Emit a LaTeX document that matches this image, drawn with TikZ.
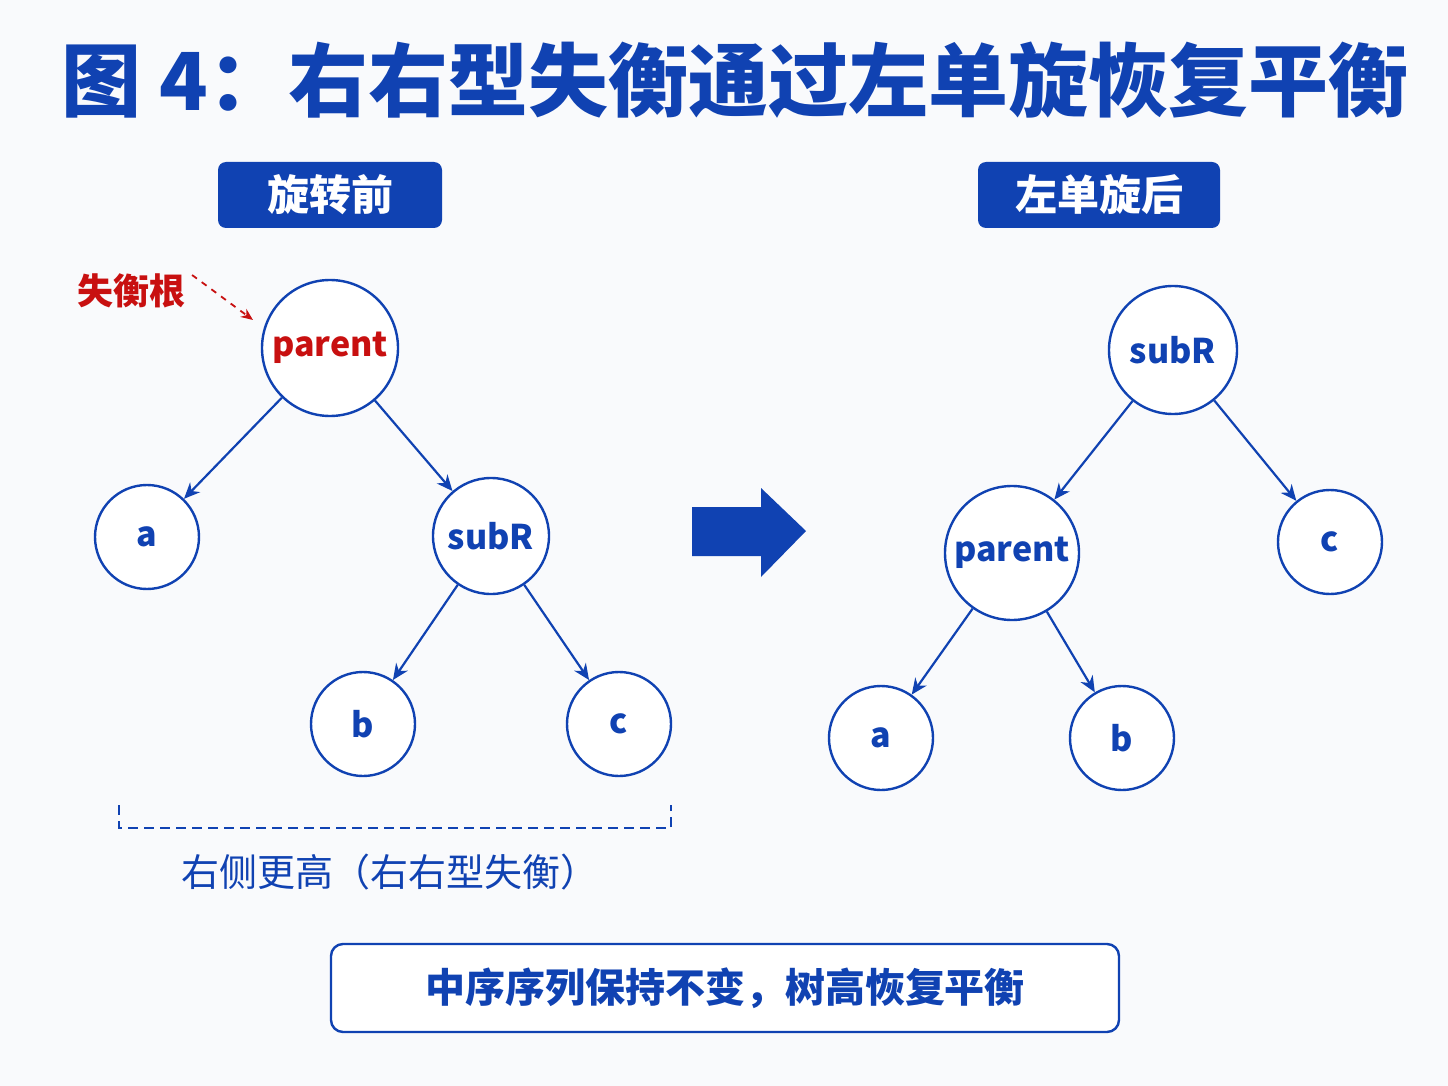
\documentclass[tikz,border=0pt]{standalone}
\usepackage{fontspec}
\setmainfont{Noto Sans CJK SC}
\newfontfamily\cjkb{Noto Sans CJK SC}[FakeBold=0]
\usetikzlibrary{arrows.meta}
\definecolor{mblue}{RGB}{16,66,178}
\definecolor{mred}{RGB}{200,16,16}
\definecolor{bg}{RGB}{249,250,252}
\begin{document}
\begin{tikzpicture}[x=0.5pt,y=-0.5pt,
  nd/.style={circle,draw=mblue,line width=1.2pt,fill=white,inner sep=0pt,font=\fontsize{17}{17}\selectfont\bfseries,text=mblue},
  ed/.style={draw=mblue,line width=1.1pt,-{Stealth[length=8pt,width=7pt]}},
  lbl/.style={rectangle,rounded corners=4pt,fill=mblue,text=white,font=\fontsize{21}{21}\selectfont\bfseries,inner sep=0pt}]
\fill[bg] (0,0) rectangle (1448,1086);
\useasboundingbox (0,0) rectangle (1448,1086);
\node[font=\fontsize{40}{40}\selectfont\bfseries,text=mblue] (title) at (735,80) {图 4：右右型失衡通过左单旋恢复平衡};
\node[lbl,minimum width=112pt,minimum height=33pt] (l1) at (330,195) {旋转前};
\node[lbl,minimum width=121pt,minimum height=33pt] (l2) at (1099,195) {左单旋后};
% left tree
\node[nd,minimum size=68pt,text=mred] (p) at (330,348) {parent};
\node[nd,minimum size=52pt] (a) at (147,537) {a};
\node[nd,minimum size=58pt] (s) at (491,536) {subR};
\node[nd,minimum size=52pt] (b) at (363,724) {b};
\node[nd,minimum size=52pt] (c) at (619,724) {c};
\draw[ed] (p) -- (a);
\draw[ed] (p) -- (s);
\draw[ed] (s) -- (b);
\draw[ed] (s) -- (c);
\node[text=mred,font=\fontsize{18}{18}\selectfont\bfseries] (root) at (131,291) {失衡根};
\coordinate (rt) at (253,320);
\draw[mred,line width=0.9pt,dashed,-{Stealth[length=6pt,width=5pt]}] (root.east)++(0,8pt) -- (rt);
\draw[mblue,line width=1pt,dash pattern=on 5pt off 3pt] (119,805) -- (119,828) -- (671,828) -- (671,805);
\node[text=mblue,font=\fontsize{19}{19}\selectfont] (hh) at (390,872) {右侧更高（右右型失衡）};
% big arrow
\fill[mblue] (692,507) -- (761,507) -- (761,488) -- (806,531) -- (761,577) -- (761,556) -- (692,556) -- cycle;
% right tree
\node[nd,minimum size=64pt] (s2) at (1173,350) {subR};
\node[nd,minimum size=67pt] (p2) at (1012,553) {parent};
\node[nd,minimum size=52pt] (c2) at (1330,542) {c};
\node[nd,minimum size=52pt] (a2) at (881,738) {a};
\node[nd,minimum size=52pt] (b2) at (1122,738) {b};
\draw[ed] (s2) -- (p2);
\draw[ed] (s2) -- (c2);
\draw[ed] (p2) -- (a2);
\draw[ed] (p2) -- (b2);
% bottom box
\node[draw=mblue,line width=1.2pt,rounded corners=6pt,fill=white,minimum width=394pt,minimum height=44pt,text=mblue,font=\fontsize{20}{20}\selectfont\bfseries] (bot) at (725,988) {中序序列保持不变，树高恢复平衡};
\end{tikzpicture}
\end{document}
